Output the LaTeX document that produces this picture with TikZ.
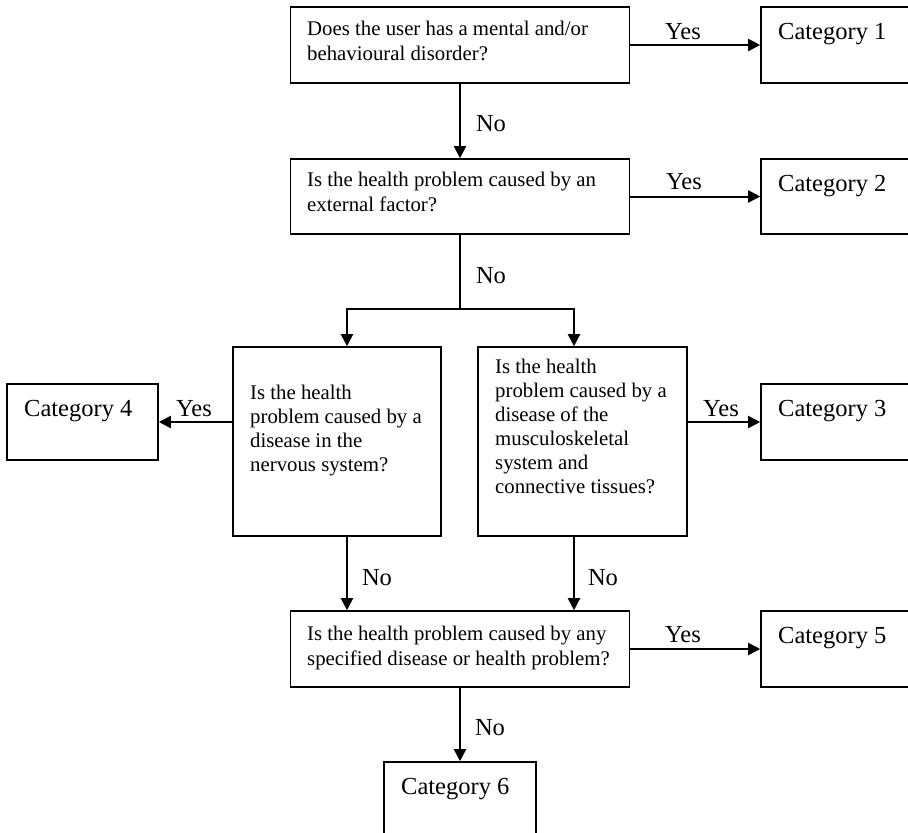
\documentclass[tikz,border=0pt]{standalone}
\usepackage{fontspec}
\setmainfont{Liberation Serif}
\usetikzlibrary{arrows.meta}

\begin{document}
\begin{tikzpicture}[x=1pt,y=-1pt,
  box/.style={draw=black, line width=1.6pt, rectangle, inner sep=0pt},
  qbox/.style={box, minimum width=339pt, minimum height=76pt},
  tallbox/.style={box, minimum height=189pt},
  cbox/.style={box, minimum width=152pt, minimum height=76pt},
  qtext/.style={font=\fontsize{20.8}{25}\selectfont, align=left, anchor=north west, inner sep=0pt},
  q3text/.style={qtext, font=\fontsize{20.8}{24}\selectfont},
  ctext/.style={font=\fontsize{24.5}{29}\selectfont, anchor=base west, inner sep=0pt},
  lbl/.style={font=\fontsize{24.5}{29}\selectfont, inner sep=0pt},
  line/.style={draw=black, line width=2pt},
  conn/.style={line, -{Triangle[length=12pt,width=12pt]}}
]
\useasboundingbox (0,0) rectangle (908,833);
\clip (0,0) rectangle (908,833);
\fill[white] (0,0) rectangle (908,833);

% decision boxes
\node[qbox] (q1) at (460,45) {};
\node[qbox, minimum height=75pt] (q2) at (460,196.5) {};
\node[tallbox, minimum width=208pt] (q3l) at (337,441.5) {};
\node[tallbox, minimum width=209pt] (q3r) at (582.5,441.5) {};
\node[qbox] (q4) at (460,649) {};

% outcome boxes
\node[cbox] (c1) at (837,45) {};
\node[cbox, minimum height=75pt] (c2) at (837,196.5) {};
\node[cbox] (c3) at (837,422) {};
\node[cbox, minimum width=151pt] (c4) at (82.5,422) {};
\node[cbox] (c5) at (837,649) {};
\node[cbox] (c6) at (460,800) {};

% question texts
\node[qtext] (q1t) at (307,20.8) {Does the user has a mental and/or\\behavioural disorder?};
\node[qtext] (q2t) at (307,171.8) {Is the health problem caused by an\\external factor?};
\node[q3text] (q3lt) at (250,384.8) {Is the health\\problem caused by a\\disease in the\\nervous system?};
\node[q3text] (q3rt) at (495,358.8) {Is the health\\problem caused by a\\disease of the\\musculoskeletal\\system and\\connective tissues?};
\node[qtext] (q4t) at (307,625.8) {Is the health problem caused by any\\specified disease or health problem?};

% category texts
\node[ctext] (c1t) at (778,39.5) {Category 1};
\node[ctext] (c2t) at (778,191.5) {Category 2};
\node[ctext] (c3t) at (778,416.5) {Category 3};
\node[ctext] (c4t) at (24,416.5) {Category 4};
\node[ctext] (c5t) at (778,643.5) {Category 5};
\node[ctext] (c6t) at (401,794.5) {Category 6};

% connectors
\coordinate (split) at (460,309);
\coordinate (sl) at (347,309);
\coordinate (sr) at (574,309);

\draw[conn] (q1.south) -- (q2.north);
\draw[conn] (q1.east) -- (c1.west);
\draw[conn] (q2.east) -- (c2.west);
\draw[line] (q2.south) -- (split);
\draw[conn] (split) -- (sl) -- (sl |- q3l.north);
\draw[conn] (split) -- (sr) -- (sr |- q3r.north);
\draw[conn] (c4.east -| q3l.west) -- (c4.east);
\draw[conn] (c3.west -| q3r.east) -- (c3.west);
\draw[conn] (sl |- q3l.south) -- (sl |- q4.north);
\draw[conn] (sr |- q3r.south) -- (sr |- q4.north);
\draw[conn] (q4.east) -- (c5.west);
\draw[conn] (q4.south) -- (c6.north);

% branch labels
\node[lbl] (no1) at (491,124) {No};
\node[lbl] (no2) at (491,276) {No};
\node[lbl] (no3) at (377,578) {No};
\node[lbl] (no4) at (603,578) {No};
\node[lbl] (no5) at (490,728) {No};
\node[lbl] (yes1) at (683,32) {Yes};
\node[lbl] (yes2) at (684,182) {Yes};
\node[lbl] (yes3) at (721,409) {Yes};
\node[lbl] (yes4) at (194,409) {Yes};
\node[lbl] (yes5) at (683,635) {Yes};
\end{tikzpicture}
\end{document}
